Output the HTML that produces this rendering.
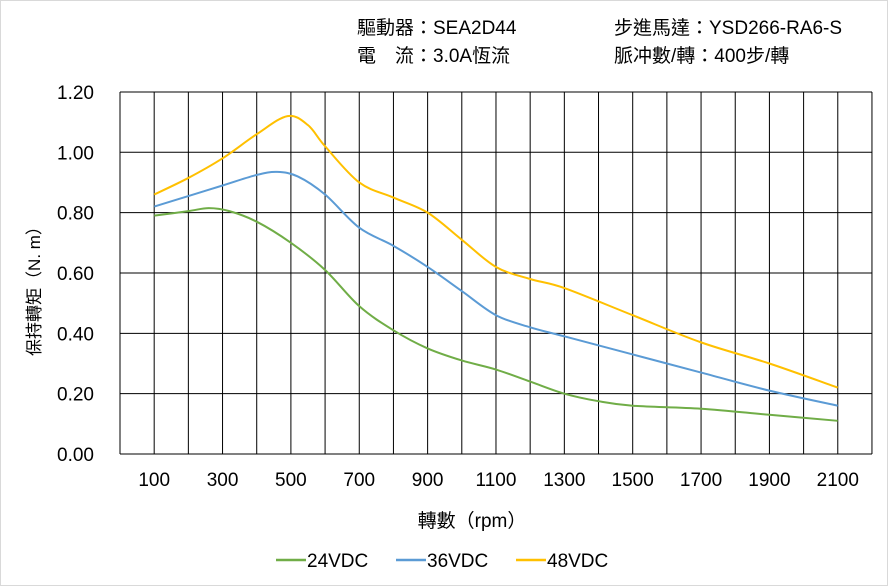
<!DOCTYPE html>
<html><head><meta charset="utf-8"><style>
body{margin:0;background:#fff}
svg{display:block}
text{font-family:"Liberation Sans","Noto Sans CJK TC",sans-serif;fill:#000}
</style></head><body>
<svg id="s" width="888" height="586" viewBox="0 0 888 586" xmlns="http://www.w3.org/2000/svg">
<rect x="0.5" y="0.5" width="887" height="585" fill="#fff" stroke="#d9d9d9"/>
<g font-size="19">
<text x="357" y="34">驅動器：SEA2D44</text>
<text x="357" y="62">電　流：3.0A恆流</text>
<text x="614" y="34">步進馬達：YSD266-RA6-S</text>
<text x="614" y="62">脈冲數/轉：400步/轉</text>
</g>
<g id="grid" stroke="#000" stroke-width="1"></g>
<g id="labels" font-size="19"></g>
<g id="curves" fill="none" stroke-width="2"></g>
<text x="472" y="527" font-size="19" text-anchor="middle">轉數（rpm）</text>
<text transform="translate(40,287) rotate(-90)" font-size="17" text-anchor="middle">保持轉矩（N. m）</text>
<g font-size="19">
<line x1="276" y1="560" x2="306" y2="560" stroke="#70ad47" stroke-width="2.5"/><text x="307" y="567">24VDC</text>
<line x1="396" y1="560" x2="426" y2="560" stroke="#5b9bd5" stroke-width="2.5"/><text x="427" y="567">36VDC</text>
<line x1="516" y1="560" x2="546" y2="560" stroke="#ffc000" stroke-width="2.5"/><text x="547" y="567">48VDC</text>
</g>
</svg>
<script>
const X=r=>120+r*0.3418, Y=v=>454-v*301.7;
let g=document.getElementById('grid'),l=document.getElementById('labels'),c=document.getElementById('curves');
let h='';
for(let i=0;i<=22;i++){let x=X(i*100);h+=`<line x1="${x}" y1="92" x2="${x}" y2="454"/>`;}
for(let j=0;j<=6;j++){let y=Y(j*0.2);h+=`<line x1="120" y1="${y}" x2="872" y2="${y}"/>`;}
g.innerHTML=h;
let t='';
for(let j=0;j<=6;j++){t+=`<text x="94" y="${Y(j*0.2)+7}" text-anchor="end">${(j*0.2).toFixed(2)}</text>`;}
for(let r=100;r<=2100;r+=200){t+=`<text x="${X(r)}" y="486" text-anchor="middle">${r}</text>`;}
l.innerHTML=t;
const data={
"#70ad47":[[100,.79],[200,.805],[260,.815],[320,.805],[400,.77],[500,.70],[600,.61],[700,.49],[800,.41],[900,.35],[1000,.31],[1100,.28],[1200,.24],[1300,.20],[1400,.175],[1500,.16],[1700,.15],[1900,.13],[2100,.11]],
"#5b9bd5":[[100,.82],[200,.855],[300,.89],[400,.925],[460,.935],[520,.92],[600,.86],[700,.75],[800,.69],[900,.62],[1000,.54],[1100,.46],[1200,.42],[1300,.39],[1500,.33],[1700,.27],[1900,.21],[2100,.16]],
"#ffc000":[[100,.86],[200,.915],[300,.98],[400,1.06],[490,1.12],[550,1.09],[600,1.02],[700,.90],[800,.85],[900,.80],[1000,.71],[1100,.62],[1200,.58],[1300,.55],[1500,.46],[1700,.37],[1900,.30],[2100,.22]]};
let ch='';
for(const col in data){const p=data[col].map(a=>[X(a[0]),Y(a[1])]);let d=`M${p[0][0]},${p[0][1]}`;
for(let i=0;i<p.length-1;i++){const p0=p[i-1]||p[i],p1=p[i],p2=p[i+1],p3=p[i+2]||p2;
d+=` C${p1[0]+(p2[0]-p0[0])/6},${p1[1]+(p2[1]-p0[1])/6} ${p2[0]-(p3[0]-p1[0])/6},${p2[1]-(p3[1]-p1[1])/6} ${p2[0]},${p2[1]}`;}
ch+=`<path d="${d}" stroke="${col}"/>`;}
c.innerHTML=ch;
</script>
</body></html>
